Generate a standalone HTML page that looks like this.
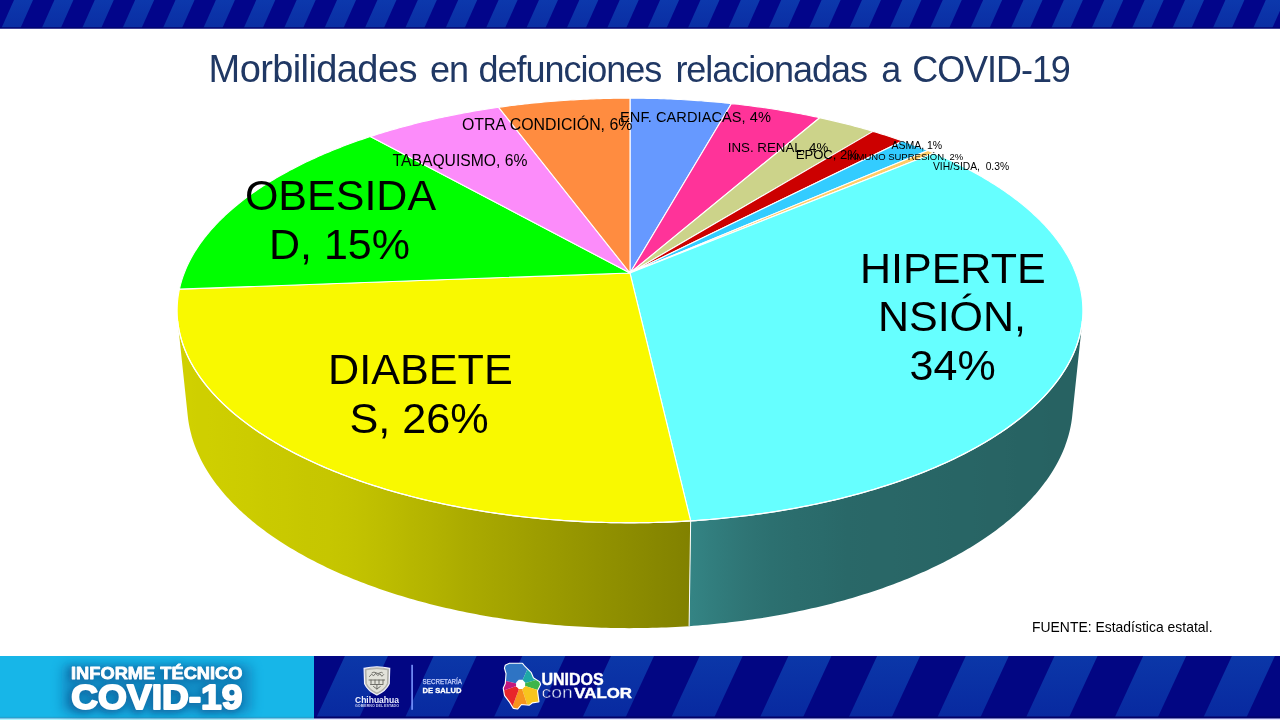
<!DOCTYPE html>
<html><head><meta charset="utf-8">
<style>
*{margin:0;padding:0;box-sizing:border-box}
html,body{width:1280px;height:720px;overflow:hidden;background:#fff}
body{position:relative;font-family:"Liberation Sans",Arial,sans-serif}
#topband{position:absolute;left:0;top:0;width:1280px;height:29px}
.tw{position:absolute;top:0;white-space:nowrap;color:#203864;font-size:36px;letter-spacing:-1.05px;line-height:1}
#chart{position:absolute;left:0;top:0}
#footer{position:absolute;left:0;top:656px;width:1280px;height:64px}
</style></head><body>
<svg id="topband" width="1280" height="29" viewBox="0 0 1280 29">
<defs><linearGradient id="tstripe" x1="0" y1="0" x2="0" y2="1"><stop offset="0" stop-color="#0c38ac"/><stop offset="1" stop-color="#0a2ea4"/></linearGradient></defs><rect width="1280" height="28.5" fill="#02058a"/>
<polygon points="-79.26,28 -60.26,28 -47.76,0 -66.76,0" fill="url(#tstripe)"/>
<polygon points="-38.88,28 -19.88,28 -7.38,0 -26.38,0" fill="url(#tstripe)"/>
<polygon points="1.50,28 20.50,28 33.00,0 14.00,0" fill="url(#tstripe)"/>
<polygon points="41.88,28 60.88,28 73.38,0 54.38,0" fill="url(#tstripe)"/>
<polygon points="82.26,28 101.26,28 113.76,0 94.76,0" fill="url(#tstripe)"/>
<polygon points="122.64,28 141.64,28 154.14,0 135.14,0" fill="url(#tstripe)"/>
<polygon points="163.02,28 182.02,28 194.52,0 175.52,0" fill="url(#tstripe)"/>
<polygon points="203.40,28 222.40,28 234.90,0 215.90,0" fill="url(#tstripe)"/>
<polygon points="243.78,28 262.78,28 275.28,0 256.28,0" fill="url(#tstripe)"/>
<polygon points="284.16,28 303.16,28 315.66,0 296.66,0" fill="url(#tstripe)"/>
<polygon points="324.54,28 343.54,28 356.04,0 337.04,0" fill="url(#tstripe)"/>
<polygon points="364.92,28 383.92,28 396.42,0 377.42,0" fill="url(#tstripe)"/>
<polygon points="405.30,28 424.30,28 436.80,0 417.80,0" fill="url(#tstripe)"/>
<polygon points="445.68,28 464.68,28 477.18,0 458.18,0" fill="url(#tstripe)"/>
<polygon points="486.06,28 505.06,28 517.56,0 498.56,0" fill="url(#tstripe)"/>
<polygon points="526.44,28 545.44,28 557.94,0 538.94,0" fill="url(#tstripe)"/>
<polygon points="566.82,28 585.82,28 598.32,0 579.32,0" fill="url(#tstripe)"/>
<polygon points="607.20,28 626.20,28 638.70,0 619.70,0" fill="url(#tstripe)"/>
<polygon points="647.58,28 666.58,28 679.08,0 660.08,0" fill="url(#tstripe)"/>
<polygon points="687.96,28 706.96,28 719.46,0 700.46,0" fill="url(#tstripe)"/>
<polygon points="728.34,28 747.34,28 759.84,0 740.84,0" fill="url(#tstripe)"/>
<polygon points="768.72,28 787.72,28 800.22,0 781.22,0" fill="url(#tstripe)"/>
<polygon points="809.10,28 828.10,28 840.60,0 821.60,0" fill="url(#tstripe)"/>
<polygon points="849.48,28 868.48,28 880.98,0 861.98,0" fill="url(#tstripe)"/>
<polygon points="889.86,28 908.86,28 921.36,0 902.36,0" fill="url(#tstripe)"/>
<polygon points="930.24,28 949.24,28 961.74,0 942.74,0" fill="url(#tstripe)"/>
<polygon points="970.62,28 989.62,28 1002.12,0 983.12,0" fill="url(#tstripe)"/>
<polygon points="1011.00,28 1030.00,28 1042.50,0 1023.50,0" fill="url(#tstripe)"/>
<polygon points="1051.38,28 1070.38,28 1082.88,0 1063.88,0" fill="url(#tstripe)"/>
<polygon points="1091.76,28 1110.76,28 1123.26,0 1104.26,0" fill="url(#tstripe)"/>
<polygon points="1132.14,28 1151.14,28 1163.64,0 1144.64,0" fill="url(#tstripe)"/>
<polygon points="1172.52,28 1191.52,28 1204.02,0 1185.02,0" fill="url(#tstripe)"/>
<polygon points="1212.90,28 1231.90,28 1244.40,0 1225.40,0" fill="url(#tstripe)"/>
<polygon points="1253.28,28 1272.28,28 1284.78,0 1265.78,0" fill="url(#tstripe)"/>
<polygon points="1293.66,28 1312.66,28 1325.16,0 1306.16,0" fill="url(#tstripe)"/>
<rect y="27.3" width="1280" height="1.2" fill="#01036a"/>
</svg>
<div class="tw" style="left:208.6px;top:49.8px;font-size:38px;letter-spacing:-0.6px">Morbilidades</div>
<div class="tw" style="left:430.0px;top:52.4px;font-size:36px;letter-spacing:-1.05px">en</div>
<div class="tw" style="left:478.6px;top:52.4px;font-size:36px;letter-spacing:-1.05px">defunciones</div>
<div class="tw" style="left:675.4px;top:52.4px;font-size:36px;letter-spacing:-1.05px">relacionadas</div>
<div class="tw" style="left:881.2px;top:52.4px;font-size:36px;letter-spacing:-1.05px">a</div>
<div class="tw" style="left:912.2px;top:52.4px;font-size:36px;letter-spacing:-1.05px">COVID-19</div>
<svg id="chart" width="1280" height="720" viewBox="0 0 1280 720" font-family="Liberation Sans, Arial, sans-serif">
<defs><linearGradient id="g6" gradientUnits="userSpaceOnUse" x1="689.1" y1="0" x2="1082.3" y2="0"><stop offset="0.004" stop-color="#348484"/><stop offset="0.074" stop-color="#317c7c"/><stop offset="0.142" stop-color="#2f7575"/><stop offset="0.210" stop-color="#2c7070"/><stop offset="0.275" stop-color="#2b6d6d"/><stop offset="0.339" stop-color="#2a6b6b"/><stop offset="0.401" stop-color="#296868"/><stop offset="0.461" stop-color="#296767"/><stop offset="0.518" stop-color="#296767"/><stop offset="0.573" stop-color="#296666"/><stop offset="0.625" stop-color="#286666"/><stop offset="0.673" stop-color="#286565"/><stop offset="0.719" stop-color="#286565"/><stop offset="0.761" stop-color="#286464"/><stop offset="0.800" stop-color="#286464"/><stop offset="0.836" stop-color="#276363"/><stop offset="0.868" stop-color="#276363"/><stop offset="0.897" stop-color="#276363"/><stop offset="0.922" stop-color="#276262"/><stop offset="0.943" stop-color="#276262"/><stop offset="0.961" stop-color="#276262"/><stop offset="0.976" stop-color="#276262"/><stop offset="0.987" stop-color="#276262"/><stop offset="0.995" stop-color="#276262"/><stop offset="1.000" stop-color="#276262"/></linearGradient><linearGradient id="g7" gradientUnits="userSpaceOnUse" x1="177.7" y1="0" x2="690.7" y2="0"><stop offset="0.000" stop-color="#d1d100"/><stop offset="0.004" stop-color="#d1d100"/><stop offset="0.012" stop-color="#d0d000"/><stop offset="0.024" stop-color="#d0d000"/><stop offset="0.039" stop-color="#cfcf00"/><stop offset="0.058" stop-color="#cfcf00"/><stop offset="0.081" stop-color="#cece00"/><stop offset="0.108" stop-color="#cdcd00"/><stop offset="0.138" stop-color="#cccc00"/><stop offset="0.172" stop-color="#caca00"/><stop offset="0.210" stop-color="#c9c900"/><stop offset="0.251" stop-color="#c7c700"/><stop offset="0.295" stop-color="#c6c600"/><stop offset="0.343" stop-color="#c3c300"/><stop offset="0.393" stop-color="#bebe00"/><stop offset="0.447" stop-color="#b8b800"/><stop offset="0.503" stop-color="#b2b200"/><stop offset="0.561" stop-color="#abab00"/><stop offset="0.621" stop-color="#a5a500"/><stop offset="0.682" stop-color="#9f9f00"/><stop offset="0.745" stop-color="#999900"/><stop offset="0.808" stop-color="#939300"/><stop offset="0.872" stop-color="#8d8d00"/><stop offset="0.936" stop-color="#878700"/><stop offset="1.000" stop-color="#818100"/></linearGradient></defs><polygon points="1082.31,321.05 1082.09,322.95 1081.83,324.85 1081.54,326.75 1081.21,328.66 1080.84,330.57 1080.44,332.47 1079.99,334.38 1079.51,336.29 1078.99,338.21 1078.44,340.12 1077.84,342.03 1077.21,343.94 1076.54,345.86 1075.83,347.77 1075.09,349.68 1074.30,351.60 1073.48,353.51 1072.61,355.42 1071.71,357.33 1070.77,359.24 1069.79,361.15 1068.77,363.06 1067.71,364.96 1066.61,366.86 1065.48,368.77 1064.30,370.66 1063.08,372.56 1061.83,374.46 1060.53,376.35 1059.20,378.24 1057.82,380.12 1056.41,382.00 1054.95,383.88 1053.46,385.76 1051.92,387.63 1050.35,389.49 1048.74,391.36 1047.08,393.21 1045.39,395.07 1043.65,396.91 1041.88,398.76 1040.06,400.59 1038.21,402.43 1036.32,404.25 1034.38,406.07 1032.41,407.89 1030.39,409.69 1028.34,411.49 1026.25,413.29 1024.12,415.07 1021.94,416.85 1019.73,418.63 1017.48,420.39 1015.19,422.15 1012.86,423.89 1010.49,425.63 1008.08,427.36 1005.63,429.09 1003.15,430.80 1000.62,432.50 998.06,434.20 995.45,435.88 992.81,437.56 990.13,439.22 987.41,440.87 984.66,442.52 981.86,444.15 979.03,445.77 976.16,447.38 973.26,448.98 970.32,450.57 967.34,452.14 964.32,453.71 961.27,455.26 958.18,456.80 955.05,458.32 951.89,459.84 948.69,461.34 945.46,462.82 942.19,464.29 938.89,465.75 935.55,467.20 932.18,468.63 928.78,470.04 925.34,471.44 921.86,472.83 918.36,474.20 914.82,475.56 911.25,476.90 907.65,478.22 904.01,479.53 900.34,480.82 896.65,482.10 892.92,483.36 889.16,484.60 885.37,485.83 881.55,487.04 877.70,488.23 873.82,489.41 869.92,490.56 865.98,491.70 862.02,492.82 858.03,493.93 854.01,495.01 849.97,496.08 845.90,497.12 841.80,498.15 837.68,499.16 833.54,500.15 829.37,501.12 825.17,502.07 820.96,503.01 816.72,503.92 812.45,504.81 808.17,505.68 803.86,506.53 799.53,507.37 795.18,508.18 790.82,508.97 786.43,509.74 782.02,510.48 777.59,511.21 773.15,511.92 768.69,512.60 764.21,513.27 759.71,513.91 755.20,514.53 750.67,515.13 746.13,515.70 741.58,516.26 737.01,516.79 732.42,517.30 727.83,517.79 723.22,518.26 718.60,518.70 713.97,519.12 709.33,519.52 704.68,519.90 700.01,520.25 695.35,520.58 690.67,520.89 689.10,626.13 693.65,625.81 698.20,625.46 702.74,625.09 707.27,624.70 711.79,624.28 716.31,623.84 720.81,623.37 725.30,622.89 729.77,622.37 734.24,621.84 738.69,621.28 743.13,620.70 747.56,620.10 751.97,619.47 756.37,618.82 760.75,618.15 765.11,617.45 769.46,616.74 773.79,616.00 778.11,615.24 782.40,614.45 786.68,613.65 790.94,612.82 795.18,611.97 799.40,611.10 803.60,610.21 807.78,609.30 811.93,608.36 816.07,607.41 820.18,606.43 824.27,605.43 828.34,604.42 832.38,603.38 836.40,602.32 840.40,601.24 844.37,600.15 848.31,599.03 852.23,597.89 856.12,596.74 859.99,595.56 863.83,594.37 867.64,593.16 871.43,591.93 875.18,590.68 878.91,589.41 882.61,588.13 886.28,586.82 889.92,585.50 893.53,584.16 897.11,582.81 900.66,581.44 904.18,580.05 907.67,578.64 911.13,577.22 914.55,575.78 917.94,574.33 921.30,572.86 924.63,571.38 927.93,569.88 931.19,568.36 934.42,566.83 937.61,565.29 940.77,563.73 943.90,562.16 946.99,560.57 950.05,558.97 953.07,557.36 956.05,555.73 959.01,554.09 961.92,552.44 964.80,550.77 967.65,549.09 970.46,547.40 973.23,545.70 975.96,543.99 978.66,542.26 981.32,540.52 983.95,538.78 986.54,537.02 989.09,535.25 991.60,533.47 994.07,531.68 996.51,529.88 998.91,528.08 1001.27,526.26 1003.60,524.43 1005.88,522.59 1008.13,520.75 1010.34,518.90 1012.51,517.04 1014.65,515.17 1016.74,513.29 1018.80,511.40 1020.81,509.51 1022.79,507.61 1024.73,505.71 1026.63,503.79 1028.49,501.87 1030.32,499.95 1032.10,498.02 1033.85,496.08 1035.56,494.14 1037.22,492.19 1038.85,490.23 1040.44,488.28 1041.99,486.31 1043.51,484.35 1044.98,482.37 1046.42,480.40 1047.81,478.42 1049.17,476.43 1050.49,474.45 1051.77,472.46 1053.01,470.46 1054.21,468.47 1055.38,466.47 1056.50,464.47 1057.59,462.46 1058.64,460.46 1059.65,458.45 1060.62,456.44 1061.56,454.43 1062.45,452.42 1063.31,450.41 1064.13,448.39 1064.92,446.38 1065.66,444.36 1066.37,442.35 1067.04,440.33 1067.67,438.32 1068.27,436.30 1068.83,434.29 1069.35,432.27 1069.83,430.26 1070.28,428.25 1070.69,426.24 1071.07,424.23 1071.41,422.22 1071.71,420.21 1071.98,418.21 1072.21,416.20" fill="url(#g6)"/>
<polygon points="690.67,520.89 685.96,521.18 681.25,521.44 676.53,521.68 671.80,521.90 667.07,522.09 662.34,522.26 657.60,522.41 652.86,522.53 648.11,522.63 643.36,522.71 638.61,522.77 633.86,522.80 629.11,522.80 624.36,522.79 619.61,522.75 614.86,522.68 610.11,522.60 605.37,522.49 600.63,522.36 595.89,522.20 591.16,522.02 586.43,521.82 581.70,521.59 576.99,521.34 572.28,521.07 567.57,520.78 562.88,520.46 558.19,520.12 553.51,519.75 548.85,519.37 544.19,518.96 539.54,518.52 534.91,518.07 530.28,517.59 525.67,517.09 521.07,516.57 516.49,516.03 511.92,515.46 507.36,514.87 502.82,514.26 498.30,513.63 493.79,512.97 489.30,512.30 484.82,511.60 480.37,510.88 475.93,510.14 471.51,509.38 467.11,508.59 462.73,507.79 458.38,506.97 454.04,506.12 449.72,505.26 445.43,504.37 441.16,503.46 436.91,502.54 432.69,501.59 428.49,500.63 424.31,499.64 420.16,498.64 416.03,497.61 411.93,496.57 407.86,495.51 403.81,494.43 399.79,493.33 395.80,492.21 391.83,491.07 387.90,489.92 383.99,488.75 380.11,487.56 376.26,486.35 372.44,485.12 368.65,483.88 364.90,482.62 361.17,481.35 357.47,480.06 353.81,478.75 350.18,477.43 346.58,476.08 343.01,474.73 339.48,473.36 335.98,471.97 332.51,470.57 329.07,469.15 325.68,467.72 322.31,466.28 318.98,464.82 315.69,463.34 312.43,461.85 309.20,460.35 306.02,458.84 302.87,457.31 299.75,455.77 296.67,454.21 293.63,452.65 290.62,451.07 287.66,449.48 284.73,447.88 281.83,446.26 278.98,444.64 276.16,443.00 273.38,441.35 270.64,439.69 267.94,438.02 265.27,436.35 262.65,434.66 260.06,432.96 257.52,431.25 255.01,429.53 252.54,427.80 250.11,426.07 247.72,424.32 245.37,422.57 243.06,420.81 240.79,419.03 238.56,417.26 236.37,415.47 234.21,413.68 232.10,411.88 230.03,410.07 228.00,408.26 226.01,406.44 224.06,404.61 222.15,402.78 220.28,400.94 218.45,399.09 216.66,397.24 214.91,395.39 213.20,393.53 211.53,391.66 209.91,389.79 208.32,387.92 206.77,386.04 205.26,384.16 203.80,382.27 202.37,380.38 200.98,378.49 199.64,376.59 198.33,374.69 197.06,372.79 195.84,370.88 194.65,368.98 193.51,367.07 192.40,365.16 191.33,363.24 190.30,361.33 189.32,359.41 188.37,357.49 187.46,355.57 186.59,353.65 185.76,351.73 184.96,349.81 184.21,347.89 183.50,345.97 182.82,344.05 182.19,342.13 181.59,340.20 181.03,338.28 180.51,336.36 180.02,334.44 179.58,332.53 179.17,330.61 178.80,328.69 178.46,326.78 178.17,324.87 177.91,322.96 177.69,321.05 187.79,416.20 188.03,418.22 188.29,420.23 188.60,422.25 188.94,424.26 189.32,426.28 189.73,428.30 190.18,430.32 190.67,432.35 191.20,434.37 191.76,436.39 192.36,438.42 193.00,440.44 193.67,442.47 194.38,444.49 195.14,446.51 195.92,448.54 196.75,450.56 197.62,452.58 198.52,454.60 199.46,456.62 200.44,458.64 201.46,460.66 202.52,462.67 203.62,464.68 204.75,466.69 205.93,468.70 207.14,470.70 208.39,472.71 209.68,474.70 211.01,476.70 212.38,478.69 213.79,480.68 215.23,482.66 216.72,484.64 218.25,486.62 219.81,488.59 221.41,490.56 223.06,492.52 224.74,494.48 226.46,496.43 228.22,498.37 230.02,500.31 231.86,502.24 233.74,504.17 235.65,506.09 237.61,508.00 239.61,509.91 241.64,511.81 243.71,513.70 245.83,515.58 247.98,517.46 250.17,519.33 252.40,521.19 254.66,523.04 256.97,524.88 259.31,526.71 261.69,528.54 264.11,530.35 266.57,532.15 269.07,533.95 271.60,535.73 274.18,537.51 276.79,539.27 279.43,541.02 282.12,542.76 284.84,544.49 287.60,546.21 290.39,547.92 293.22,549.61 296.09,551.29 299.00,552.96 301.94,554.62 304.91,556.26 307.93,557.89 310.97,559.51 314.06,561.11 317.17,562.70 320.32,564.27 323.51,565.83 326.73,567.38 329.99,568.91 333.27,570.43 336.60,571.93 339.95,573.41 343.34,574.88 346.76,576.34 350.21,577.78 353.70,579.20 357.21,580.60 360.76,581.99 364.34,583.36 367.95,584.72 371.59,586.05 375.26,587.37 378.95,588.67 382.68,589.96 386.44,591.22 390.23,592.47 394.04,593.70 397.88,594.90 401.75,596.10 405.65,597.27 409.57,598.42 413.52,599.55 417.49,600.66 421.49,601.76 425.51,602.83 429.56,603.88 433.64,604.91 437.73,605.92 441.85,606.92 445.99,607.89 450.16,608.83 454.35,609.76 458.55,610.67 462.78,611.55 467.03,612.42 471.30,613.26 475.59,614.08 479.89,614.88 484.22,615.65 488.56,616.40 492.92,617.13 497.30,617.84 501.69,618.53 506.10,619.19 510.53,619.83 514.97,620.44 519.42,621.04 523.89,621.61 528.37,622.15 532.86,622.68 537.37,623.18 541.88,623.65 546.41,624.11 550.95,624.53 555.49,624.94 560.05,625.32 564.62,625.68 569.19,626.01 573.77,626.32 578.36,626.60 582.96,626.86 587.56,627.10 592.16,627.31 596.77,627.50 601.39,627.66 606.01,627.80 610.63,627.92 615.25,628.01 619.88,628.07 624.51,628.11 629.13,628.13 633.76,628.12 638.39,628.09 643.02,628.04 647.64,627.95 652.26,627.85 656.88,627.72 661.50,627.56 666.11,627.39 670.72,627.18 675.32,626.96 679.92,626.70 684.51,626.43 689.10,626.13" fill="url(#g7)"/>
<polygon points="630.00,273.02 630.00,98.18 633.40,98.19 636.81,98.20 640.21,98.23 643.62,98.28 647.02,98.33 650.42,98.40 653.82,98.47 657.22,98.56 660.62,98.67 664.02,98.78 667.41,98.91 670.81,99.04 674.20,99.19 677.59,99.36 680.98,99.53 684.37,99.72 687.75,99.91 691.13,100.12 694.51,100.35 697.88,100.58 701.26,100.82 704.63,101.08 707.99,101.35 711.35,101.63 714.71,101.93 718.07,102.23 721.42,102.55 724.77,102.88 728.11,103.22 731.45,103.58" fill="#6699ff" stroke="#fff" stroke-width="1.1" stroke-linejoin="round"/>
<polygon points="630.00,273.02 731.45,103.58 734.80,103.94 738.14,104.32 741.48,104.71 744.82,105.12 748.15,105.53 751.47,105.96 754.79,106.40 758.10,106.85 761.41,107.32 764.71,107.79 768.01,108.28 771.29,108.78 774.58,109.29 777.85,109.81 781.12,110.35 784.38,110.90 787.63,111.46 790.88,112.03 794.12,112.61 797.35,113.21 800.57,113.82 803.79,114.44 807.00,115.07 810.19,115.71 813.38,116.37 816.56,117.03 819.74,117.71" fill="#ff3399" stroke="#fff" stroke-width="1.1" stroke-linejoin="round"/>
<polygon points="630.00,273.02 819.74,117.71 822.96,118.42 826.17,119.13 829.38,119.86 832.57,120.60 835.76,121.36 838.93,122.12 842.09,122.90 845.25,123.69 848.39,124.50 851.52,125.31 854.64,126.14 857.74,126.98 860.84,127.83 863.92,128.70 867.00,129.57 870.05,130.46 873.10,131.36" fill="#ccd38a" stroke="#fff" stroke-width="1.1" stroke-linejoin="round"/>
<polygon points="630.00,273.02 873.10,131.36 876.11,132.27 879.10,133.18 882.07,134.11 885.04,135.05 887.99,136.00 890.93,136.96 893.86,137.94 896.77,138.92 899.66,139.92 902.55,140.93" fill="#cc0000" stroke="#fff" stroke-width="1.1" stroke-linejoin="round"/>
<polygon points="630.00,273.02 902.55,140.93 905.43,141.96 908.29,143.00 911.14,144.05 913.98,145.11 916.80,146.18 919.60,147.26 922.39,148.36 925.16,149.47 927.92,150.59" fill="#33ccff" stroke="#fff" stroke-width="1.1" stroke-linejoin="round"/>
<polygon points="630.00,273.02 927.92,150.59 930.93,151.83 933.92,153.09" fill="#ffcc66" stroke="#fff" stroke-width="1.1" stroke-linejoin="round"/>
<polygon points="630.00,273.02 933.92,153.09 936.50,154.19 939.06,155.31 941.61,156.43 944.15,157.57 946.67,158.71 949.17,159.87 951.65,161.04 954.12,162.21 956.57,163.40 959.01,164.60 961.43,165.81 963.83,167.02 966.21,168.25 968.57,169.49 970.92,170.74 973.25,172.00 975.56,173.26 977.85,174.54 980.12,175.83 982.38,177.13 984.61,178.44 986.83,179.76 989.02,181.08 991.20,182.42 993.35,183.77 995.49,185.13 997.60,186.49 999.70,187.87 1001.77,189.25 1003.82,190.65 1005.86,192.05 1007.87,193.47 1009.85,194.89 1011.82,196.32 1013.77,197.77 1015.69,199.22 1017.59,200.68 1019.46,202.15 1021.32,203.63 1023.15,205.11 1024.96,206.61 1026.74,208.12 1028.50,209.63 1030.24,211.15 1031.95,212.68 1033.64,214.23 1035.30,215.77 1036.94,217.33 1038.56,218.90 1040.15,220.47 1041.71,222.05 1043.25,223.64 1044.76,225.24 1046.25,226.85 1047.71,228.47 1049.14,230.09 1050.55,231.72 1051.93,233.36 1053.28,235.00 1054.60,236.66 1055.90,238.32 1057.17,239.99 1058.41,241.66 1059.63,243.35 1060.81,245.04 1061.97,246.74 1063.10,248.44 1064.20,250.15 1065.27,251.87 1066.31,253.60 1067.32,255.33 1068.30,257.07 1069.25,258.82 1070.17,260.57 1071.06,262.33 1071.92,264.09 1072.75,265.86 1073.55,267.64 1074.31,269.42 1075.05,271.21 1075.75,273.00 1076.42,274.80 1077.06,276.60 1077.67,278.41 1078.25,280.23 1078.79,282.05 1079.30,283.87 1079.77,285.70 1080.22,287.54 1080.62,289.38 1081.00,291.22 1081.34,293.07 1081.65,294.92 1081.92,296.78 1082.16,298.64 1082.37,300.50 1082.54,302.37 1082.67,304.24 1082.77,306.12 1082.84,307.99 1082.87,309.88 1082.86,311.76 1082.82,313.65 1082.74,315.54 1082.63,317.43 1082.48,319.32 1082.29,321.22 1082.07,323.12 1081.81,325.02 1081.51,326.92 1081.18,328.83 1080.81,330.73 1080.40,332.64 1079.95,334.55 1079.47,336.46 1078.95,338.37 1078.39,340.28 1077.79,342.19 1077.16,344.10 1076.49,346.02 1075.77,347.93 1075.02,349.84 1074.24,351.75 1073.41,353.66 1072.54,355.57 1071.64,357.48 1070.70,359.39 1069.71,361.30 1068.69,363.20 1067.63,365.11 1066.53,367.01 1065.39,368.91 1064.21,370.81 1062.99,372.70 1061.74,374.59 1060.44,376.48 1059.10,378.37 1057.72,380.25 1056.31,382.14 1054.85,384.01 1053.35,385.89 1051.82,387.75 1050.24,389.62 1048.63,391.48 1046.97,393.34 1045.27,395.19 1043.54,397.03 1041.76,398.88 1039.95,400.71 1038.09,402.54 1036.20,404.37 1034.26,406.18 1032.29,408.00 1030.27,409.80 1028.22,411.60 1026.12,413.39 1023.99,415.18 1021.82,416.96 1019.60,418.73 1017.35,420.49 1015.06,422.24 1012.73,423.99 1010.36,425.73 1007.95,427.46 1005.50,429.18 1003.01,430.89 1000.49,432.59 997.92,434.28 995.32,435.97 992.68,437.64 990.00,439.30 987.28,440.96 984.52,442.60 981.73,444.23 978.90,445.85 976.03,447.46 973.12,449.05 970.18,450.64 967.20,452.21 964.19,453.78 961.13,455.33 958.04,456.86 954.92,458.39 951.76,459.90 948.56,461.40 945.33,462.88 942.06,464.35 938.76,465.81 935.43,467.25 932.05,468.68 928.65,470.09 925.21,471.49 921.74,472.88 918.24,474.25 914.70,475.60 911.13,476.94 907.53,478.27 903.89,479.57 900.23,480.86 896.53,482.14 892.80,483.40 889.05,484.64 885.26,485.86 881.44,487.07 877.59,488.26 873.72,489.44 869.81,490.59 865.88,491.73 861.92,492.85 857.93,493.95 853.92,495.04 849.88,496.10 845.81,497.15 841.71,498.17 837.60,499.18 833.45,500.17 829.28,501.14 825.09,502.09 820.88,503.02 816.64,503.93 812.38,504.83 808.10,505.70 803.79,506.55 799.47,507.38 795.12,508.19 790.75,508.98 786.37,509.75 781.96,510.49 777.54,511.22 773.10,511.93 768.64,512.61 764.16,513.27 759.67,513.91 755.16,514.53 750.64,515.13 746.10,515.71 741.54,516.26 736.98,516.80 732.40,517.31 727.80,517.79 723.20,518.26 718.58,518.70 713.95,519.12 709.31,519.52 704.67,519.90 700.01,520.25 695.34,520.58 690.67,520.89" fill="#66ffff" stroke="#fff" stroke-width="1.1" stroke-linejoin="round"/>
<polygon points="630.00,273.02 690.67,520.89 685.99,521.17 681.30,521.44 676.61,521.68 671.91,521.89 667.21,522.09 662.50,522.26 657.79,522.40 653.07,522.53 648.35,522.63 643.63,522.71 638.91,522.76 634.18,522.79 629.46,522.80 624.74,522.79 620.01,522.75 615.29,522.69 610.57,522.61 605.85,522.50 601.14,522.37 596.42,522.22 591.72,522.04 587.01,521.84 582.32,521.62 577.63,521.38 572.94,521.11 568.26,520.82 563.59,520.51 558.93,520.17 554.28,519.81 549.64,519.43 545.00,519.03 540.38,518.60 535.77,518.16 531.17,517.69 526.58,517.19 522.01,516.68 517.44,516.14 512.90,515.58 508.36,515.00 503.84,514.40 499.34,513.78 494.86,513.13 490.39,512.46 485.93,511.77 481.50,511.06 477.08,510.33 472.68,509.58 468.30,508.81 463.94,508.02 459.60,507.20 455.29,506.37 450.99,505.51 446.71,504.64 442.46,503.74 438.23,502.83 434.02,501.89 429.83,500.94 425.67,499.97 421.54,498.97 417.43,497.96 413.34,496.93 409.28,495.88 405.25,494.81 401.24,493.73 397.26,492.62 393.31,491.50 389.38,490.36 385.49,489.20 381.62,488.02 377.78,486.83 373.97,485.62 370.19,484.39 366.44,483.15 362.72,481.88 359.03,480.61 355.38,479.31 351.75,478.00 348.16,476.68 344.60,475.34 341.07,473.98 337.57,472.61 334.11,471.22 330.68,469.82 327.28,468.40 323.92,466.97 320.59,465.53 317.30,464.07 314.04,462.59 310.82,461.11 307.63,459.61 304.48,458.10 301.36,456.57 298.28,455.03 295.24,453.48 292.23,451.92 289.26,450.34 286.33,448.76 283.43,447.16 280.57,445.55 277.75,443.93 274.96,442.29 272.21,440.65 269.50,439.00 266.83,437.33 264.20,435.66 261.61,433.98 259.05,432.28 256.53,430.58 254.05,428.87 251.61,427.15 249.21,425.42 246.85,423.68 244.53,421.93 242.25,420.18 240.00,418.41 237.80,416.64 235.63,414.86 233.51,413.08 231.42,411.29 229.37,409.49 227.37,407.68 225.40,405.87 223.47,404.05 221.59,402.23 219.74,400.40 217.93,398.56 216.16,396.72 214.43,394.87 212.75,393.02 211.10,391.17 209.49,389.31 207.92,387.44 206.39,385.57 204.90,383.70 203.45,381.82 202.05,379.94 200.68,378.06 199.35,376.17 198.06,374.28 196.80,372.39 195.59,370.50 194.42,368.60 193.29,366.70 192.20,364.80 191.14,362.90 190.13,360.99 189.15,359.08 188.21,357.18 187.32,355.27 186.46,353.36 185.64,351.45 184.86,349.54 184.11,347.63 183.41,345.72 182.74,343.81 182.11,341.90 181.52,339.99 180.97,338.08 180.45,336.17 179.98,334.26 179.54,332.35 179.13,330.45 178.77,328.54 178.44,326.64 178.15,324.74 177.90,322.84 177.68,320.94 177.50,319.04 177.35,317.15 177.24,315.26 177.17,313.37 177.14,311.49 177.13,309.60 177.17,307.72 177.24,305.85 177.34,303.97 177.48,302.10 177.66,300.24 177.87,298.37 178.11,296.52 178.39,294.66 178.70,292.81 179.05,290.96 179.43,289.12" fill="#f9f900" stroke="#fff" stroke-width="1.1" stroke-linejoin="round"/>
<polygon points="630.00,273.02 179.43,289.12 179.85,287.28 180.29,285.44 180.78,283.61 181.29,281.78 181.84,279.96 182.42,278.14 183.03,276.33 183.68,274.52 184.35,272.72 185.06,270.93 185.81,269.14 186.58,267.35 187.38,265.57 188.22,263.80 189.08,262.03 189.98,260.27 190.91,258.52 191.87,256.77 192.85,255.03 193.87,253.30 194.92,251.57 196.00,249.85 197.10,248.13 198.24,246.43 199.40,244.73 200.60,243.03 201.82,241.35 203.07,239.67 204.35,238.00 205.65,236.34 206.98,234.68 208.34,233.03 209.73,231.39 211.15,229.76 212.59,228.14 214.06,226.52 215.55,224.91 217.07,223.31 218.62,221.72 220.19,220.14 221.78,218.56 223.41,217.00 225.05,215.44 226.73,213.89 228.42,212.35 230.14,210.81 231.89,209.29 233.66,207.77 235.45,206.27 237.27,204.77 239.11,203.28 240.97,201.80 242.86,200.33 244.77,198.87 246.70,197.42 248.65,195.98 250.63,194.55 252.62,193.12 254.64,191.71 256.68,190.30 258.74,188.91 260.83,187.52 262.93,186.14 265.05,184.78 267.20,183.42 269.36,182.07 271.55,180.74 273.75,179.41 275.98,178.09 278.22,176.78 280.48,175.49 282.77,174.20 285.07,172.92 287.39,171.65 289.72,170.39 292.08,169.15 294.45,167.91 296.85,166.68 299.26,165.46 301.68,164.26 304.13,163.06 306.59,161.87 309.07,160.70 311.56,159.53 314.07,158.38 316.60,157.23 319.14,156.10 321.70,154.97 324.28,153.86 326.87,152.76 329.47,151.66 332.10,150.58 334.73,149.51 337.38,148.45 340.05,147.40 342.73,146.36 345.42,145.33 348.13,144.32 350.85,143.31 353.59,142.31 356.34,141.33 359.10,140.35 361.88,139.39 364.67,138.44 367.47,137.49 370.28,136.56" fill="#00ff00" stroke="#fff" stroke-width="1.1" stroke-linejoin="round"/>
<polygon points="630.00,273.02 370.28,136.56 373.13,135.64 375.99,134.72 378.86,133.82 381.75,132.92 384.64,132.04 387.55,131.17 390.47,130.31 393.40,129.46 396.34,128.62 399.30,127.79 402.26,126.98 405.24,126.17 408.22,125.38 411.22,124.60 414.22,123.83 417.24,123.07 420.27,122.32 423.30,121.58 426.35,120.86 429.40,120.14 432.47,119.44 435.54,118.75 438.62,118.07 441.71,117.40 444.81,116.74 447.92,116.10 451.04,115.46 454.16,114.84 457.29,114.23 460.43,113.62 463.58,113.04 466.74,112.46 469.90,111.89 473.07,111.33 476.25,110.79 479.43,110.26 482.62,109.74 485.82,109.23 489.02,108.73 492.23,108.24 495.44,107.77 498.67,107.30" fill="#fc8cfa" stroke="#fff" stroke-width="1.1" stroke-linejoin="round"/>
<polygon points="630.00,273.02 498.67,107.30 501.88,106.85 505.09,106.42 508.31,105.99 511.54,105.57 514.77,105.17 518.01,104.77 521.25,104.39 524.50,104.02 527.75,103.66 531.00,103.31 534.26,102.98 537.53,102.65 540.79,102.34 544.07,102.04 547.34,101.75 550.62,101.47 553.90,101.20 557.19,100.94 560.48,100.70 563.77,100.46 567.06,100.24 570.36,100.03 573.66,99.83 576.96,99.64 580.26,99.46 583.57,99.30 586.88,99.14 590.19,99.00 593.50,98.87 596.81,98.75 600.13,98.64 603.44,98.55 606.76,98.46 610.08,98.39 613.40,98.32 616.72,98.27 620.04,98.23 623.36,98.20 626.68,98.19 630.00,98.18" fill="#ff8c40" stroke="#fff" stroke-width="1.1" stroke-linejoin="round"/>
<polyline points="1082.31,321.05 1082.09,322.95 1081.83,324.85 1081.54,326.75 1081.21,328.65 1080.84,330.56 1080.44,332.47 1080.00,334.37 1079.52,336.28 1079.00,338.19 1078.44,340.10 1077.85,342.01 1077.22,343.93 1076.55,345.84 1075.84,347.75 1075.10,349.66 1074.31,351.57 1073.49,353.48 1072.63,355.39 1071.73,357.30 1070.79,359.21 1069.81,361.11 1068.79,363.02 1067.73,364.92 1066.64,366.83 1065.50,368.73 1064.33,370.62 1063.11,372.52 1061.86,374.41 1060.57,376.30 1059.23,378.19 1057.86,380.07 1056.45,381.95 1054.99,383.83 1053.50,385.70 1051.97,387.57 1050.40,389.44 1048.79,391.30 1047.13,393.15 1045.44,395.01 1043.71,396.85 1041.94,398.69 1040.13,400.53 1038.28,402.36 1036.39,404.18 1034.46,406.00 1032.49,407.82 1030.48,409.62 1028.43,411.42 1026.34,413.21 1024.21,415.00 1022.04,416.78 1019.83,418.55 1017.58,420.31 1015.29,422.07 1012.97,423.81 1010.60,425.55 1008.20,427.28 1005.75,429.00 1003.27,430.71 1000.75,432.42 998.19,434.11 995.59,435.79 992.95,437.47 990.28,439.13 987.56,440.78 984.81,442.43 982.02,444.06 979.20,445.68 976.33,447.29 973.43,448.89 970.49,450.47 967.52,452.05 964.51,453.61 961.46,455.16 958.37,456.70 955.25,458.23 952.10,459.74 948.90,461.24 945.68,462.72 942.41,464.19 939.12,465.65 935.78,467.10 932.42,468.53 929.02,469.94 925.58,471.34 922.12,472.73 918.62,474.10 915.08,475.46 911.52,476.80 907.92,478.12 904.29,479.43 900.63,480.72 896.94,482.00 893.21,483.26 889.46,484.50 885.68,485.73 881.86,486.94 878.02,488.13 874.15,489.31 870.25,490.47 866.32,491.60 862.36,492.73 858.38,493.83 854.37,494.92 850.33,495.98 846.27,497.03 842.18,498.06 838.06,499.07 833.92,500.06 829.76,501.03 825.57,501.99 821.36,502.92 817.12,503.83 812.86,504.73 808.58,505.60 804.28,506.45 799.96,507.28 795.62,508.10 791.25,508.89 786.87,509.66 782.47,510.41 778.05,511.14 773.61,511.85 769.15,512.53 764.68,513.20 760.19,513.84 755.68,514.46 751.16,515.06 746.63,515.64 742.08,516.20 737.51,516.73 732.93,517.25 728.34,517.74 723.74,518.21 719.13,518.65 714.50,519.08 709.86,519.48 705.22,519.85 700.56,520.21 695.90,520.54 691.22,520.85 686.54,521.14 681.86,521.41 677.16,521.65 672.46,521.87 667.76,522.06 663.05,522.24 658.34,522.39 653.62,522.51 648.90,522.62 644.18,522.70 639.45,522.76 634.73,522.79 630.00,522.80 625.27,522.79 620.55,522.76 615.82,522.70 611.10,522.62 606.38,522.51 601.66,522.39 596.95,522.24 592.24,522.06 587.54,521.87 582.84,521.65 578.14,521.41 573.46,521.14 568.78,520.85 564.10,520.54 559.44,520.21 554.78,519.85 550.14,519.48 545.50,519.08 540.87,518.65 536.26,518.21 531.66,517.74 527.07,517.25 522.49,516.73 517.92,516.20 513.37,515.64 508.84,515.06 504.32,514.46 499.81,513.84 495.32,513.20 490.85,512.53 486.39,511.85 481.95,511.14 477.53,510.41 473.13,509.66 468.75,508.89 464.38,508.10 460.04,507.28 455.72,506.45 451.42,505.60 447.14,504.73 442.88,503.83 438.64,502.92 434.43,501.99 430.24,501.03 426.08,500.06 421.94,499.07 417.82,498.06 413.73,497.03 409.67,495.98 405.63,494.92 401.62,493.83 397.64,492.73 393.68,491.60 389.75,490.47 385.85,489.31 381.98,488.13 378.14,486.94 374.32,485.73 370.54,484.50 366.79,483.26 363.06,482.00 359.37,480.72 355.71,479.43 352.08,478.12 348.48,476.80 344.92,475.46 341.38,474.10 337.88,472.73 334.42,471.34 330.98,469.94 327.58,468.53 324.22,467.10 320.88,465.65 317.59,464.19 314.32,462.72 311.10,461.24 307.90,459.74 304.75,458.23 301.63,456.70 298.54,455.16 295.49,453.61 292.48,452.05 289.51,450.47 286.57,448.89 283.67,447.29 280.80,445.68 277.98,444.06 275.19,442.43 272.44,440.78 269.72,439.13 267.05,437.47 264.41,435.79 261.81,434.11 259.25,432.42 256.73,430.71 254.25,429.00 251.80,427.28 249.40,425.55 247.03,423.81 244.71,422.07 242.42,420.31 240.17,418.55 237.96,416.78 235.79,415.00 233.66,413.21 231.57,411.42 229.52,409.62 227.51,407.82 225.54,406.00 223.61,404.18 221.72,402.36 219.87,400.53 218.06,398.69 216.29,396.85 214.56,395.01 212.87,393.15 211.21,391.30 209.60,389.44 208.03,387.57 206.50,385.70 205.01,383.83 203.55,381.95 202.14,380.07 200.77,378.19 199.43,376.30 198.14,374.41 196.89,372.52 195.67,370.62 194.50,368.73 193.36,366.83 192.27,364.92 191.21,363.02 190.19,361.11 189.21,359.21 188.27,357.30 187.37,355.39 186.51,353.48 185.69,351.57 184.90,349.66 184.16,347.75 183.45,345.84 182.78,343.93 182.15,342.01 181.56,340.10 181.00,338.19 180.48,336.28 180.00,334.37 179.56,332.47 179.16,330.56 178.79,328.65 178.46,326.75 178.17,324.85 177.91,322.95 177.69,321.05" fill="none" stroke="#fff" stroke-width="1.2"/>
<line x1="690.67" y1="520.89" x2="689.10" y2="626.13" stroke="#fff" stroke-width="1"/>
<text x="340.5" y="210.2" font-size="43" text-anchor="middle" fill="#000">OBESIDA</text>
<text x="339.5" y="259.3" font-size="43" text-anchor="middle" fill="#000">D, 15%</text>
<text x="420.4" y="383.8" font-size="43.2" text-anchor="middle" fill="#000">DIABETE</text>
<text x="419" y="432.8" font-size="43.2" text-anchor="middle" fill="#000">S, 26%</text>
<text x="952.8" y="282.7" font-size="43" text-anchor="middle" fill="#000">HIPERTE</text>
<text x="952" y="331.25" font-size="43" text-anchor="middle" fill="#000">NSIÓN,</text>
<text x="952.6" y="380" font-size="43" text-anchor="middle" fill="#000">34%</text>
<text x="462" y="129.8" font-size="15.9" text-anchor="start" fill="#000">OTRA CONDICIÓN, 6%</text>
<text x="392.6" y="166.4" font-size="15.7" text-anchor="start" fill="#000">TABAQUISMO, 6%</text>
<text x="620" y="121.6" font-size="14.6" text-anchor="start" fill="#000" textLength="151">ENF. CARDIACAS, 4%</text>
<text x="727.8" y="151.6" font-size="13.3" text-anchor="start" fill="#000">INS. RENAL, 4%</text>
<text x="795.7" y="159.4" font-size="13.1" text-anchor="start" fill="#000">EPOC, 2%</text>
<text x="891.4" y="148.7" font-size="10.5" text-anchor="start" fill="#000">ASMA, 1%</text>
<text x="847" y="159.6" font-size="9.5" text-anchor="start" fill="#000">INMUNO SUPRESIÓN, 2%</text>
<text x="933" y="170.3" font-size="10.3" text-anchor="start" fill="#000">VIH/SIDA,  0.3%</text>
<text x="1032" y="631.8" font-size="13.9" fill="#000" textLength="180.5">FUENTE: Estadística estatal.</text>
</svg>

<svg id="footer" width="1280" height="64" viewBox="0 656 1280 64" font-family="Liberation Sans, Arial, sans-serif">
<defs><linearGradient id="fstripe" x1="0" y1="0" x2="0" y2="1"><stop offset="0" stop-color="#0b37a8"/><stop offset="1" stop-color="#0829a0"/></linearGradient><filter id="tshadow2" x="-30%" y="-60%" width="160%" height="220%"><feGaussianBlur stdDeviation="6"/></filter><filter id="tshadow" x="-20%" y="-60%" width="140%" height="220%"><feGaussianBlur stdDeviation="3.5"/></filter><linearGradient id="shieldg" x1="0" y1="0" x2="1" y2="1"><stop offset="0" stop-color="#e4e4dc"/><stop offset="0.5" stop-color="#b8b8b0"/><stop offset="1" stop-color="#d8d8d0"/></linearGradient><clipPath id="mapclip"><polygon points="505.8,665.4 509.7,663.8 522.1,663.8 524.4,666.6 530.7,672.8 533,678.2 539.2,682.1 540,684.4 536.9,690.7 538.4,701.5 532.2,702.3 529.1,704.7 521.3,703.9 517.4,708.5 513.6,707.8 509.7,701.5 505,695.3 503.8,688.3 505.8,683.7 506.6,673.6 505,668.1"/></clipPath></defs>
<rect x="0" y="656" width="1280" height="64" fill="#020683"/>
<polygon points="-9.90,656 33.10,656 4.40,718 -38.60,718" fill="url(#fstripe)"/>
<polygon points="78.80,656 121.80,656 93.10,718 50.10,718" fill="url(#fstripe)"/>
<polygon points="167.50,656 210.50,656 181.80,718 138.80,718" fill="url(#fstripe)"/>
<polygon points="256.20,656 299.20,656 270.50,718 227.50,718" fill="url(#fstripe)"/>
<polygon points="344.90,656 387.90,656 359.20,718 316.20,718" fill="url(#fstripe)"/>
<polygon points="433.60,656 476.60,656 447.90,718 404.90,718" fill="url(#fstripe)"/>
<polygon points="522.30,656 565.30,656 536.60,718 493.60,718" fill="url(#fstripe)"/>
<polygon points="611.00,656 654.00,656 625.30,718 582.30,718" fill="url(#fstripe)"/>
<polygon points="699.70,656 742.70,656 714.00,718 671.00,718" fill="url(#fstripe)"/>
<polygon points="788.40,656 831.40,656 802.70,718 759.70,718" fill="url(#fstripe)"/>
<polygon points="877.10,656 920.10,656 891.40,718 848.40,718" fill="url(#fstripe)"/>
<polygon points="965.80,656 1008.80,656 980.10,718 937.10,718" fill="url(#fstripe)"/>
<polygon points="1054.50,656 1097.50,656 1068.80,718 1025.80,718" fill="url(#fstripe)"/>
<polygon points="1143.20,656 1186.20,656 1157.50,718 1114.50,718" fill="url(#fstripe)"/>
<polygon points="1231.90,656 1274.90,656 1246.20,718 1203.20,718" fill="url(#fstripe)"/>
<rect x="0" y="716.5" width="1280" height="2" fill="#02036a"/>
<rect x="0" y="718.5" width="1280" height="1.5" fill="#e4e6ff"/>
<rect x="0" y="656" width="314" height="62" fill="#17b6e8"/>
<rect x="0" y="716.8" width="314" height="1.7" fill="#22a4d0"/>
<rect x="0" y="718.5" width="314" height="1.5" fill="#b4f6ff"/>
<g filter="url(#tshadow2)" opacity="0.45"><rect x="62" y="664" width="190" height="50" rx="6" fill="#0a5c9c"/></g>
<g filter="url(#tshadow)" opacity="0.7" fill="#0b5d98" stroke="#0b5d98"><text x="69" y="680.3" font-size="16.7" font-weight="bold" stroke-width="2" textLength="172" lengthAdjust="spacingAndGlyphs">INFORME TÉCNICO</text><text x="69" y="710.5" font-size="35.6" font-weight="bold" stroke-width="4" textLength="172" lengthAdjust="spacingAndGlyphs">COVID-19</text></g>
<text x="71" y="678.8" font-size="16.7" font-weight="bold" fill="#fff" stroke="#fff" stroke-width="0.8" stroke-linejoin="round" textLength="171.5" lengthAdjust="spacingAndGlyphs">INFORME TÉCNICO</text>
<text x="71.3" y="709" font-size="35.6" font-weight="bold" fill="#fff" stroke="#fff" stroke-width="2" stroke-linejoin="round" textLength="171" lengthAdjust="spacingAndGlyphs">COVID-19</text>
<path d="M364.1,668.3 Q376.9,665.2 389.7,668.3 L389.2,683.8 Q386,691 376.9,695 Q367.8,691 364.6,683.8 Z" fill="#b9b9b2" stroke="#f2f2ff" stroke-width="1.2"/>
<path d="M366,669.8 Q376.9,667.4 387.8,669.8 L387.4,683.4 Q384.6,689.6 376.9,693 Q369.2,689.6 366.4,683.4 Z" fill="#e2e2da" stroke="#8e8e88" stroke-width="0.5"/>
<g fill="none" stroke="#55554f" stroke-width="0.9" stroke-linecap="round" opacity="0.9"><path d="M369.5,676.5 l2,-2.2 l2.2,1.4 l2,-2.4 l2,2.2 l2.2,-1.6 l2,2.4 l1.8,-1.8"/><path d="M369,680 h15.6 M371,680 v3.5 M375,680 v3.5 M379,680 v3.5 M383,680 v3.5"/><path d="M370.5,684.5 h12.5 M376.9,684.5 v4.5 M373.5,686.5 l3.4,2.5 l3.4,-2.5"/><path d="M372,672.8 q2,-1.5 4,0 q2,1.5 4,0 q1.5,-1 2.5,0"/></g>
<text x="355" y="702.8" font-size="9.2" font-weight="bold" fill="#eef0ff" textLength="44" lengthAdjust="spacingAndGlyphs">Chihuahua</text>
<text x="355" y="707.2" font-size="3.4" font-weight="bold" fill="#c8ccf0" textLength="44" lengthAdjust="spacingAndGlyphs">GOBIERNO DEL ESTADO</text>
<rect x="411.3" y="664.8" width="1.6" height="45" fill="#7b96ff"/>
<text x="422.6" y="684.4" font-size="6.6" fill="#c9d2ff" stroke="#c9d2ff" stroke-width="0.25" textLength="39.4" lengthAdjust="spacingAndGlyphs">SECRETARÍA</text>
<text x="422.6" y="693" font-size="7.6" font-weight="bold" fill="#ffffff" stroke="#fff" stroke-width="0.3" textLength="38.8" lengthAdjust="spacingAndGlyphs">DE SALUD</text>
<polygon points="505.8,665.4 509.7,663.8 522.1,663.8 524.4,666.6 530.7,672.8 533,678.2 539.2,682.1 540,684.4 536.9,690.7 538.4,701.5 532.2,702.3 529.1,704.7 521.3,703.9 517.4,708.5 513.6,707.8 509.7,701.5 505,695.3 503.8,688.3 505.8,683.7 506.6,673.6 505,668.1" fill="#fff" stroke="#fff" stroke-width="2.2" stroke-linejoin="round"/>
<g clip-path="url(#mapclip)"><polygon points="520.6,684.4 481.6,675.4 484.5,667.1 489.2,659.6 495.4,653.4 502.8,648.6 511.0,645.6 519.7,644.4 528.5,645.2 536.9,647.9" fill="#2e74c4"/><polygon points="520.6,684.4 536.9,647.9 540.8,649.8 544.4,652.2 547.8,655.0 550.8,658.2 553.5,661.6 555.8,665.3 557.6,669.3 559.1,673.4" fill="#1fa8a6"/><polygon points="520.6,684.4 559.1,673.4 559.8,676.3 560.3,679.2 560.5,682.1 560.6,685.1 560.4,688.1 560.1,691.0 559.5,693.9 558.6,696.8" fill="#3cb54a"/><polygon points="520.6,684.4 558.6,696.8 556.9,701.1 554.7,705.3 552.0,709.2 548.9,712.7 545.4,715.8 541.5,718.5 537.3,720.7 533.0,722.4" fill="#f7c51e"/><polygon points="520.6,684.4 533.0,722.4 529.8,723.3 526.5,724.0 523.2,724.3 519.9,724.4 516.6,724.2 513.3,723.7 510.1,723.0 506.9,722.0" fill="#f7941d"/><polygon points="520.6,684.4 506.9,722.0 502.9,720.3 499.1,718.1 495.6,715.6 492.3,712.7 489.4,709.4 486.9,705.9 484.7,702.1 483.0,698.1" fill="#e8262a"/><polygon points="520.6,684.4 483.0,698.1 482.1,695.3 481.4,692.5 481.0,689.7 480.7,686.8 480.6,684.0 480.7,681.1 481.1,678.2 481.6,675.4" fill="#c2187e"/></g>
<polygon points="525.13,686.28 522.48,688.93 518.72,688.93 516.07,686.28 516.07,682.52 518.72,679.87 522.48,679.87 525.13,682.52" fill="#fff"/>
<text x="541.4" y="685" font-size="16.4" font-weight="bold" fill="#fff" stroke="#fff" stroke-width="0.4" textLength="62.3" lengthAdjust="spacingAndGlyphs">UNIDOS</text>
<text x="541.6" y="697.5" font-size="16" fill="#fff" stroke="#0c1c8e" stroke-width="0.5" textLength="31" lengthAdjust="spacingAndGlyphs">con</text>
<text x="574.3" y="697.5" font-size="14" font-weight="bold" fill="#fff" stroke="#fff" stroke-width="0.4" textLength="57.7" lengthAdjust="spacingAndGlyphs">VALOR</text>
</svg>
</body></html>
